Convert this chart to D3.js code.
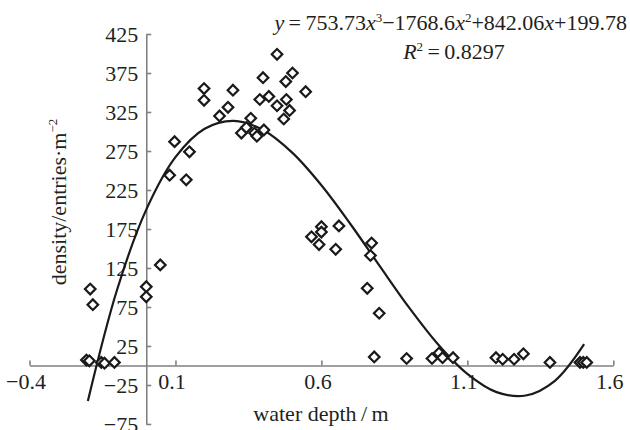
<html lang="en">
<head>
<meta charset="UTF-8">
<title>density vs water depth</title>
<script src="https://cdn.jsdelivr.net/npm/d3@7"></script>
<style>
    body { margin: 0; background: #fff; }
    svg text { font-family: "Liberation Serif", "Times New Roman", "DejaVu Serif", serif; fill: #231f20; }
    .axis path, .axis line { stroke: #808080; stroke-width: 1.6; }
    .axis text { font-size: 22px; }
</style>
</head>
<body>
<svg id="chart" width="630" height="430" font-family="Liberation Serif"></svg>
<script>
// measured points: water depth (m) and density (entries per m^2)
let depth = [-0.205, -0.195, -0.192, -0.183, -0.154, -0.143, -0.109, 0, 0, 0.048,
    0.080, 0.097, 0.137, 0.148, 0.198, 0.198, 0.251, 0.280, 0.297, 0.326,
    0.343, 0.358, 0.371, 0.379, 0.389, 0.400, 0.403, 0.420, 0.448, 0.448,
    0.471, 0.478, 0.480, 0.491, 0.501, 0.546, 0.566, 0.592, 0.600, 0.600,
    0.649, 0.660, 0.757, 0.768, 0.772, 0.781, 0.798, 0.892, 0.979, 1.003,
    1.015, 1.051, 1.198, 1.221, 1.260, 1.292, 1.383, 1.486, 1.497, 1.509]
let density = [7, 6, 98, 78, 4, 3, 4, 101, 88, 129,
    244, 287, 238, 274, 355, 340, 320, 331, 353, 298,
    305, 317, 298, 294, 341, 369, 302, 345, 399, 333,
    316, 364, 341, 327, 375, 351, 165, 155, 178, 171,
    149, 179, 99, 141, 157, 11, 67, 9, 9, 16,
    10, 10, 10, 8, 8, 15, 4, 4, 4, 4]

// cubic trend line
let trendX = [-0.2, -0.1, 0, 0.1, 0.2, 0.3, 0.4, 0.5, 0.6, 0.7, 0.8, 0.9, 1.0, 1.1, 1.2, 1.3, 1.4, 1.5]
let trendY = [-45.4, 97.1, 199.8, 267.1, 303.5, 313.6, 301.9, 272.9, 231.1, 181.1, 127.4, 74.5, 27.0, -10.7, -34.1, -38.5, -19.6, 27.3]

let xTicks = [-0.4, 0.1, 0.6, 1.1, 1.6]
let yTicks = [-75, -25, 25, 75, 125, 175, 225, 275, 325, 375, 425]

let serif = '"Liberation Serif", "Times New Roman", serif'
let svg = d3.select("#chart")

let x = d3.scaleLinear().domain([-0.4, 1.6]).range([29.5, 613.3])
let y = d3.scaleLinear().domain([-75, 425]).range([424, 34])

// x axis sits on y = 0, ticks point up
let xAxis = svg.append("g")
    .attr("class", "axis")
    .attr("transform", "translate(0," + y(0) + ")")
    .call(d3.axisBottom(x).tickValues(xTicks).tickSizeInner(-5).tickSizeOuter(0).tickPadding(8)
        .tickFormat(d3.format(".1f")))
xAxis.attr("font-family", null).attr("font-size", null)
xAxis.selectAll("text").attr("dx", -4).style("font-family", serif)

// y axis sits on x = 0, ticks point right
let yAxis = svg.append("g")
    .attr("class", "axis")
    .attr("transform", "translate(" + x(0) + ",0)")
    .call(d3.axisLeft(y).tickValues(yTicks).tickSizeInner(-5).tickSizeOuter(0).tickPadding(8))
yAxis.attr("font-family", null).attr("font-size", null)
yAxis.selectAll("text").style("font-family", serif)

// trend line
let line = d3.line()
    .x(function (d, i) { return x(trendX[i]) })
    .y(function (d) { return y(d) })
    .curve(d3.curveCatmullRom.alpha(0.5))

svg.append("path")
    .datum(trendY)
    .attr("d", line)
    .attr("fill", "none")
    .attr("stroke", "#1a1a1a")
    .attr("stroke-width", 2.2)

// diamond markers
let diamond = d3.symbol().type(d3.symbolSquare).size(56)
svg.append("g").selectAll("path")
    .data(depth)
    .join("path")
    .attr("d", diamond)
    .attr("transform", function (d, i) {
        return "translate(" + x(d) + "," + y(density[i]) + ") rotate(45)"
    })
    .attr("fill", "#fff")
    .attr("stroke", "#1a1a1a")
    .attr("stroke-width", 2.2)

// axis titles
svg.append("text")
    .attr("x", 321).attr("y", 421)
    .attr("text-anchor", "middle")
    .style("font-family", serif)
    .style("font-size", "22px")
    .text("water depth\u2009/\u2009m")

let yl = svg.append("text")
    .attr("transform", "translate(66,202) rotate(-90)")
    .attr("text-anchor", "middle")
    .style("font-family", serif)
    .style("font-size", "22px")
yl.append("tspan").text("density/entries\u00b7m")
yl.append("tspan").attr("dy", -9).style("font-size", "13px").text("\u22122")

// equation
let eq = svg.append("text")
    .attr("x", 627).attr("y", 30)
    .attr("text-anchor", "end")
    .style("font-family", serif)
    .style("font-size", "22px")
eq.append("tspan").style("font-style", "italic").text("y")
eq.append("tspan").text("\u2009=\u2009753.73")
eq.append("tspan").style("font-style", "italic").text("x")
eq.append("tspan").attr("dy", -8).style("font-size", "13px").text("3")
eq.append("tspan").attr("dy", 8).text("\u22121768.6")
eq.append("tspan").style("font-style", "italic").text("x")
eq.append("tspan").attr("dy", -8).style("font-size", "13px").text("2")
eq.append("tspan").attr("dy", 8).text("+842.06")
eq.append("tspan").style("font-style", "italic").text("x")
eq.append("tspan").text("+199.78")

let r2 = svg.append("text")
    .attr("x", 454).attr("y", 59)
    .attr("text-anchor", "middle")
    .style("font-family", serif)
    .style("font-size", "22px")
r2.append("tspan").style("font-style", "italic").text("R")
r2.append("tspan").attr("dy", -8).style("font-size", "13px").text("2")
r2.append("tspan").attr("dy", 8).text("\u2009=\u20090.8297")
</script>
</body>
</html>
